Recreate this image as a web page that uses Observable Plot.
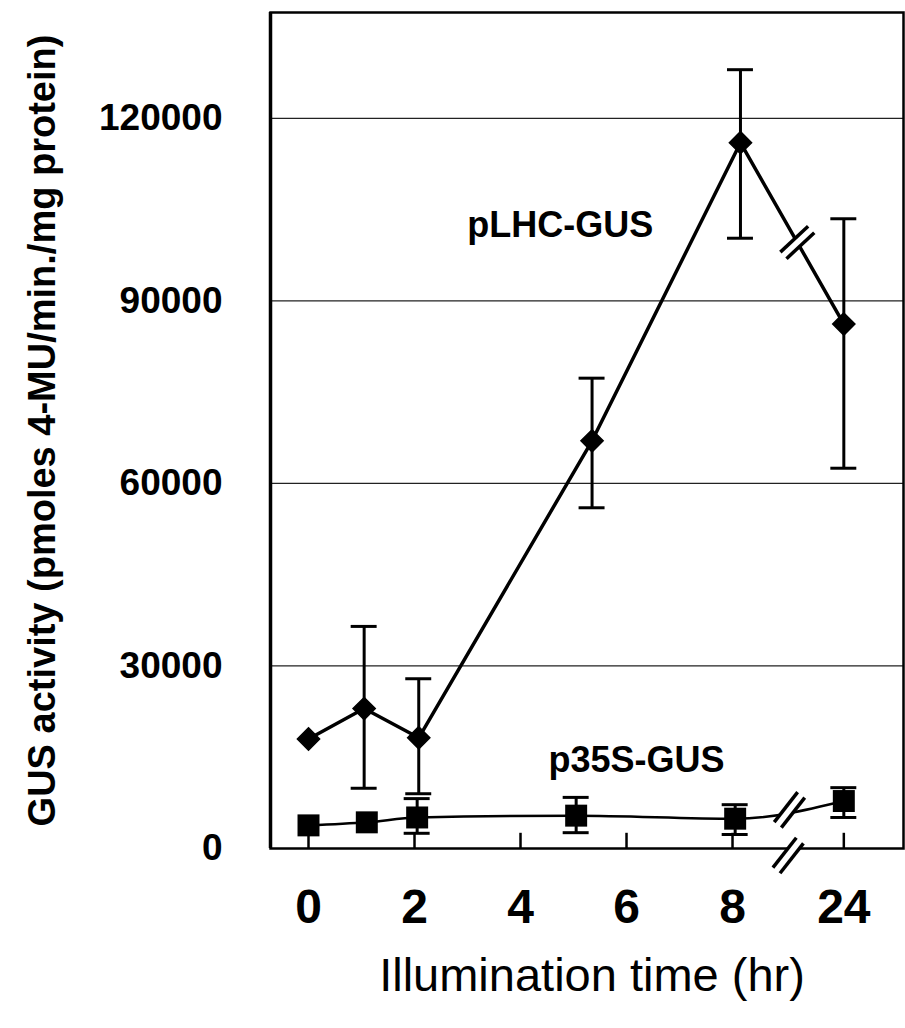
<!DOCTYPE html>
<html><head><meta charset="utf-8">
<script src="https://cdn.jsdelivr.net/npm/d3@7"></script>
<script src="https://cdn.jsdelivr.net/npm/@observablehq/plot@0.6"></script>
<style>body{margin:0;background:#fff}</style>
</head><body><div id="chart"></div>
<script>
// ---- data ----
const hoursLHC = [0, 1.05, 2.08, 5.35, 8.15, 24];
const meanLHC  = [18000, 23000, 18200, 67000, 116000, 86200];
const loLHC    = [null, 9900, 9000, 56000, 100300, 62500];
const hiLHC    = [null, 36500, 27900, 77300, 128000, 103500];

const hours35S = [0, 1.1, 2.05, 5.05, 8.05, 24];
const mean35S  = [3800, 4300, 5100, 5400, 4900, 7800];
const lo35S    = [null, null, 2500, 2600, 2300, 5100];
const hi35S    = [null, null, 8200, 8400, 7200, 10000];

const xTickHours = [0, 2, 4, 6, 8, 24];
const yTicks = [0, 30000, 60000, 90000, 120000];

const seriesNames = ["pLHC-GUS", "p35S-GUS"];
const labelHours = [4.75, 6.19];
const labelValues = [102400, 14460];

const xTitle = "Illumination time (hr)";
const yTitle = "GUS activity (pmoles 4-MU/min./mg protein)";

// ---- broken time axis: 24 h drawn just after 8 h ----
const pos = h => h === 24 ? 10.1 : h;

const lhc = hoursLHC.map((h, i) => ({x: pos(h), y: meanLHC[i], lo: loLHC[i], hi: hiLHC[i]}));
const s35 = hours35S.map((h, i) => ({x: pos(h), y: mean35S[i], lo: lo35S[i], hi: hi35S[i]}));
const labels = seriesNames.map((t, i) => ({text: t, x: labelHours[i], y: labelValues[i]}));

const capHalf = 0.245;      // half width of error caps (x units)
const innerTick = 2500;     // inner tick length (y units)

const errs = [...lhc, ...s35].filter(d => d.lo != null);

const breakAt = (a, b, f) => ({x: a.x + f * (b.x - a.x), y: a.y + f * (b.y - a.y)});
const lhcBreak = [breakAt(lhc[4], lhc[5], 0.55)];
const s35Break = [breakAt(s35[4], s35[5], 0.5)];
const axisBreak = [{x: (pos(8) + pos(24)) / 2, y: 0}];

function slashes(data, rotate, dyBase = 0) {
  const rad = rotate * Math.PI / 180;
  const px = Math.cos(rad), py = Math.sin(rad);
  const off = 4.5;
  const base = {x: "x", y: "y", rotate, anchor: "middle", r: 0, strokeLinecap: "butt"};
  return [
    Plot.vector(data, {...base, length: 30, stroke: "white", strokeWidth: 11, dy: dyBase}),
    Plot.vector(data, {...base, length: 38, stroke: "black", strokeWidth: 3.5, dx: -off * px, dy: dyBase - off * py}),
    Plot.vector(data, {...base, length: 38, stroke: "black", strokeWidth: 3.5, dx: off * px, dy: dyBase + off * py})
  ];
}

const tickPositions = xTickHours.map(pos);

const chart = Plot.plot({
  width: 905,
  height: 1028,
  marginTop: 12,
  marginLeft: 270,
  marginRight: 2,
  marginBottom: 180,
  x: {domain: [-0.717, 11.226]},
  y: {domain: [0, 137400]},
  style: {fontFamily: "'Liberation Sans', Arial, sans-serif", background: "white", color: "black"},
  marks: [
    Plot.gridY(yTicks.slice(1), {stroke: "#222", strokeOpacity: 1, strokeWidth: 1.2}),
    Plot.ruleX(tickPositions, {y1: 0, y2: innerTick, stroke: "black", strokeWidth: 2.5}),
    Plot.frame({stroke: "black", strokeWidth: 2.5}),
    Plot.ruleX([-0.717], {stroke: "black", strokeWidth: 3.5}),
    Plot.axisY(yTicks, {tickSize: 0, tickPadding: 48, fontSize: 37, fontWeight: "bold", tickFormat: d3.format("d"), label: null}),
    Plot.axisX(tickPositions, {tickSize: 0, tickPadding: 40, fontSize: 48, fontWeight: "bold",
      tickFormat: p => String(xTickHours[tickPositions.indexOf(p)]), label: null}),
    // error bars
    Plot.ruleX(errs, {x: "x", y1: "lo", y2: "hi", stroke: "black", strokeWidth: 3}),
    Plot.ruleY(errs, {y: "lo", x1: d => d.x - capHalf, x2: d => d.x + capHalf, stroke: "black", strokeWidth: 3}),
    Plot.ruleY(errs, {y: "hi", x1: d => d.x - capHalf, x2: d => d.x + capHalf, stroke: "black", strokeWidth: 3}),
    // lines
    Plot.line(lhc, {x: "x", y: "y", stroke: "black", strokeWidth: 3.5}),
    Plot.line(s35, {x: "x", y: "y", stroke: "black", strokeWidth: 2.5, curve: "monotone-x"}),
    // break marks
    ...slashes(lhcBreak, 47),
    ...slashes(s35Break, 38),
    ...slashes(axisBreak, 38, 7),
    // points
    Plot.dot(lhc, {x: "x", y: "y", symbol: "diamond2", r: 10, fill: "black", stroke: "black"}),
    Plot.dot(s35, {x: "x", y: "y", symbol: "square", r: 12.4, fill: "black", stroke: "none"}),
    // series labels
    Plot.text(labels, {x: "x", y: "y", text: "text", fontSize: 36, fontWeight: "bold"}),
    // axis titles
    Plot.text([yTitle], {frameAnchor: "left", textAnchor: "middle", rotate: -90, dx: -228, fontSize: 38, fontWeight: "bold"}),
    Plot.text([xTitle], {frameAnchor: "bottom", textAnchor: "middle", dx: 5, dy: 142, fontSize: 47})
  ]
});
document.getElementById("chart").appendChild(chart);
</script>
</body></html>
